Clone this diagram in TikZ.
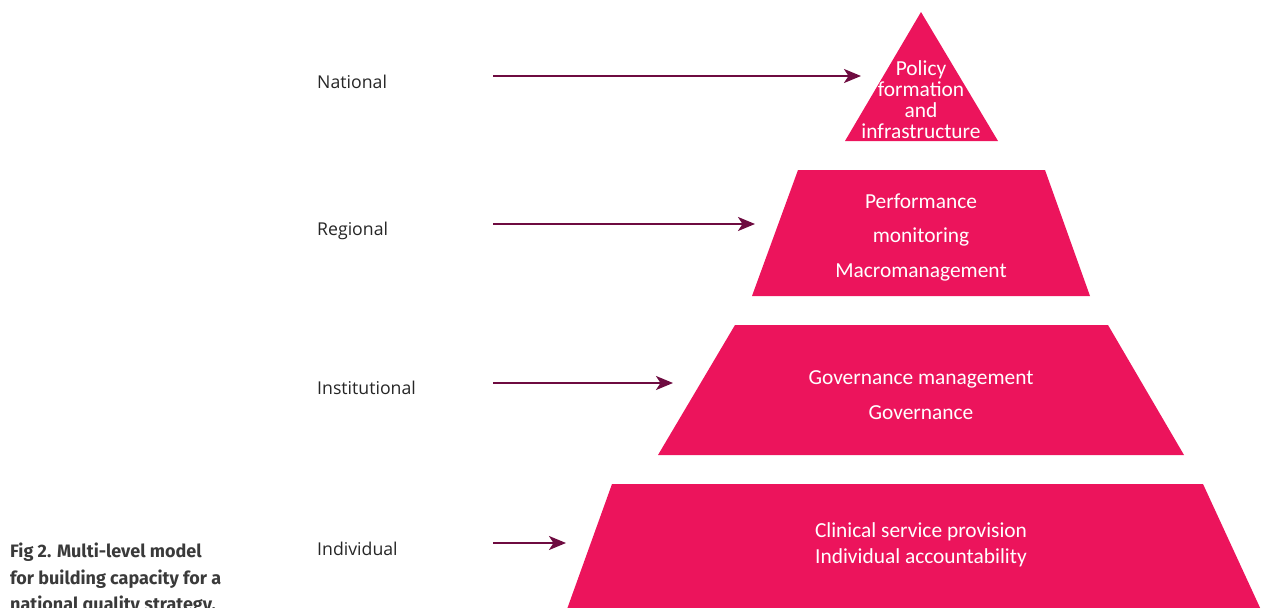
\documentclass[tikz,border=0pt]{standalone}
\usepackage{fontspec}
\setmainfont{Carlito}
\newfontfamily\levelfont{Open Sans}
\newfontfamily\captionfont{Fira Sans}
\usetikzlibrary{arrows.meta}
\definecolor{pyrpink}{HTML}{EC145C}
\definecolor{arrowplum}{HTML}{6E0B40}
\definecolor{captiongrey}{HTML}{3A3A3A}

\begin{document}
\begin{tikzpicture}[x=1pt,y=-1pt,
  tier/.style={fill=pyrpink, draw=none},
  tiertext/.style={text=white, align=center, inner sep=0pt},
  levellabel/.style={anchor=base west, inner sep=0pt, text=black!85,
    font=\levelfont\fontsize{17.7}{20}\selectfont},
  levelarrow/.style={draw=arrowplum, line width=2pt,
    -{Stealth[length=17pt,width=14pt,inset=4.5pt]}},
  captionline/.style={anchor=base west, inner sep=0pt, text=captiongrey,
    font=\captionfont\bfseries\fontsize{18}{20}\selectfont}]

\useasboundingbox (0,0) rectangle (1267,608);
\clip (0,0) rectangle (1267,608);

% pyramid tiers, top to bottom
\fill[tier] (921,12) -- (998,141) -- (845,141) -- cycle;
\fill[tier] (798,170) -- (1045,170) -- (1090,296) -- (752,296) -- cycle;
\fill[tier] (735,325) -- (1108,325) -- (1184,455) -- (658,455) -- cycle;
\fill[tier] (612,484) -- (1203,484) -- (1262,612) -- (566,612) -- cycle;

% tier contents
\node[tiertext, font=\fontsize{21.4}{21}\selectfont] (national) at (921,100)
  {Policy\\formation\\and\\infrastructure};
\node[tiertext, font=\fontsize{21.4}{34.5}\selectfont] (regional) at (921,237)
  {Performance\\monitoring\\Macromanagement};
\node[tiertext, font=\fontsize{21.4}{35}\selectfont] (institutional) at (921,395)
  {Governance management\\Governance};
\node[tiertext, font=\fontsize{21.4}{26}\selectfont] (individual) at (921,545)
  {Clinical service provision\\Individual accountability};

% level names
\node[levellabel] (lnational) at (317,88) {National};
\node[levellabel] (lregional) at (317,235) {Regional};
\node[levellabel] (linstitutional) at (317,394) {Institutional};
\node[levellabel] (lindividual) at (317,555) {Individual};

% arrows pointing at each tier
\coordinate (anational0) at (493,76);
\coordinate (anational1) at (861,76);
\coordinate (aregional0) at (493,224);
\coordinate (aregional1) at (755,224);
\coordinate (ainstitutional0) at (493,383);
\coordinate (ainstitutional1) at (673,383);
\coordinate (aindividual0) at (493,543);
\coordinate (aindividual1) at (566,543);
\draw[levelarrow] (anational0) -- (anational1);
\draw[levelarrow] (aregional0) -- (aregional1);
\draw[levelarrow] (ainstitutional0) -- (ainstitutional1);
\draw[levelarrow] (aindividual0) -- (aindividual1);

% figure caption
\node[captionline] (cap1) at (10,557) {Fig 2. Multi-level model};
\node[captionline] (cap2) at (10,584) {for building capacity for a};
\node[captionline] (cap3) at (10,610) {national quality strategy.};
\end{tikzpicture}
\end{document}
